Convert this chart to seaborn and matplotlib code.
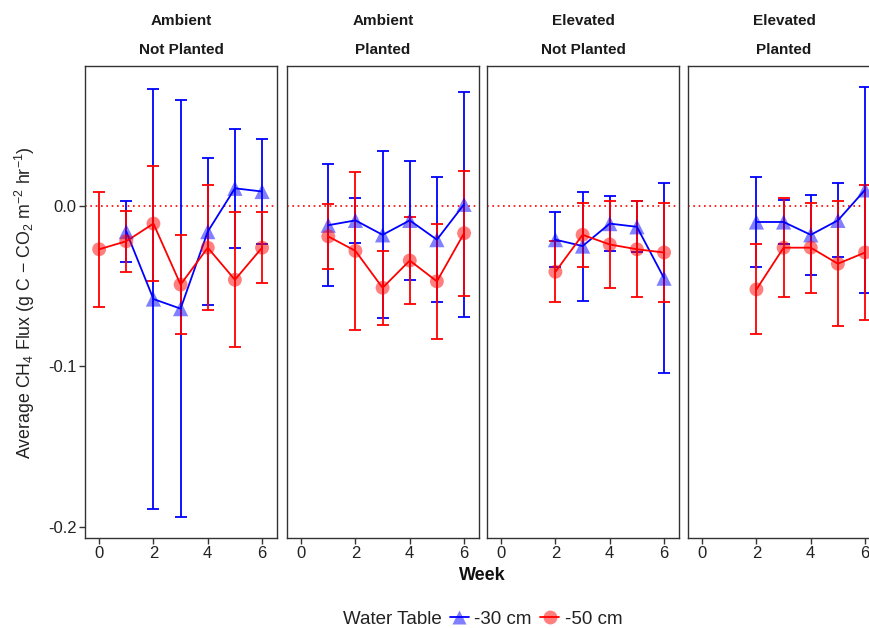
import matplotlib
matplotlib.use("Agg")
import matplotlib.pyplot as plt
from matplotlib.lines import Line2D
from matplotlib.colors import to_rgba
import seaborn as sns
import pandas as pd

# ---- data ----
panels_top = ["Ambient", "Ambient", "Elevated", "Elevated"]
panels_bottom = ["Not Planted", "Planted", "Not Planted", "Planted"]
series_labels = ["-30 cm", "-50 cm"]

p1_weeks_30 = [1, 2, 3, 4, 5, 6]
p1_mean_30 = [-0.016, -0.058, -0.064, -0.016, 0.011, 0.009]
p1_err_30 = [0.019, 0.131, 0.130, 0.046, 0.037, 0.033]
p1_weeks_50 = [0, 1, 2, 3, 4, 5, 6]
p1_mean_50 = [-0.027, -0.022, -0.011, -0.049, -0.026, -0.046, -0.026]
p1_err_50 = [0.036, 0.019, 0.036, 0.031, 0.039, 0.042, 0.022]

p2_weeks_30 = [1, 2, 3, 4, 5, 6]
p2_mean_30 = [-0.012, -0.009, -0.018, -0.009, -0.021, 0.001]
p2_err_30 = [0.038, 0.014, 0.052, 0.037, 0.039, 0.070]
p2_weeks_50 = [1, 2, 3, 4, 5, 6]
p2_mean_50 = [-0.019, -0.028, -0.051, -0.034, -0.047, -0.017]
p2_err_50 = [0.020, 0.049, 0.023, 0.027, 0.036, 0.039]

p3_weeks_30 = [2, 3, 4, 5, 6]
p3_mean_30 = [-0.021, -0.025, -0.011, -0.013, -0.045]
p3_err_30 = [0.017, 0.034, 0.017, 0.016, 0.059]
p3_weeks_50 = [2, 3, 4, 5, 6]
p3_mean_50 = [-0.041, -0.018, -0.024, -0.027, -0.029]
p3_err_50 = [0.019, 0.020, 0.027, 0.030, 0.031]

p4_weeks_30 = [2, 3, 4, 5, 6]
p4_mean_30 = [-0.010, -0.010, -0.018, -0.009, 0.010]
p4_err_30 = [0.028, 0.014, 0.025, 0.023, 0.064]
p4_weeks_50 = [2, 3, 4, 5, 6]
p4_mean_50 = [-0.052, -0.026, -0.026, -0.036, -0.029]
p4_err_50 = [0.028, 0.031, 0.028, 0.039, 0.042]

y_ticks = [0.0, -0.1, -0.2]
y_tick_labels = ["0.0", "-0.1", "-0.2"]
x_ticks = [0, 2, 4, 6]

panel_data = [
    ((p1_weeks_30, p1_mean_30, p1_err_30), (p1_weeks_50, p1_mean_50, p1_err_50)),
    ((p2_weeks_30, p2_mean_30, p2_err_30), (p2_weeks_50, p2_mean_50, p2_err_50)),
    ((p3_weeks_30, p3_mean_30, p3_err_30), (p3_weeks_50, p3_mean_50, p3_err_50)),
    ((p4_weeks_30, p4_mean_30, p4_err_30), (p4_weeks_50, p4_mean_50, p4_err_50)),
]

# ---- style ----
sns.set_theme(style="white")
plt.rcParams["font.family"] = ["Liberation Sans", "DejaVu Sans"]
plt.rcParams["axes.unicode_minus"] = False
plt.rcParams["mathtext.fontset"] = "custom"
plt.rcParams["mathtext.rm"] = "Liberation Sans"
plt.rcParams["mathtext.it"] = "Liberation Sans:italic"

colors = {"-30 cm": "#0000FF", "-50 cm": "#FF0000"}
markers = {"-30 cm": "^", "-50 cm": "o"}
msize = {"-30 cm": 120, "-50 cm": 100}

W, H = 869, 628
fig = plt.figure(figsize=(W / 100, H / 100), dpi=100)

lefts = [85, 287, 487, 688]
pw = 192
top, bottom = 66, 538

for i, (left, (s30, s50)) in enumerate(zip(lefts, panel_data)):
    ax = fig.add_axes([left / W, 1 - bottom / H, pw / W, (bottom - top) / H])
    ax.axhline(0, color="#FF0000", ls=(0, (1, 2.2)), lw=1.2, zorder=1)
    for lab, (wk, mn, er) in zip(series_labels, (s30, s50)):
        df = pd.DataFrame({"week": wk, "flux": mn, "err": er})
        c = colors[lab]
        ax.errorbar(df["week"], df["flux"], yerr=df["err"], fmt="none",
                    ecolor=c, elinewidth=1.3, capsize=4.5, capthick=1.3, zorder=2)
        sns.lineplot(data=df, x="week", y="flux", color=c, lw=1.3, ax=ax,
                     zorder=3, legend=False)
        sns.scatterplot(data=df, x="week", y="flux", color=c, marker=markers[lab],
                        s=msize[lab], alpha=0.5, edgecolor="none", ax=ax,
                        zorder=4, legend=False)
    ax.set_xlim(-0.52, 6.55)
    ax.set_ylim(-0.2069, 0.0872)
    ax.set_xticks(x_ticks)
    ax.set_xticklabels([str(t) for t in x_ticks], fontsize=12, color="#222222")
    ax.set_yticks(y_ticks)
    if i == 0:
        ax.set_yticklabels(y_tick_labels, fontsize=12, color="#222222")
        ax.tick_params(axis="y", left=True, length=4, width=1, color="#333333", pad=2)
    else:
        ax.set_yticklabels([])
        ax.tick_params(axis="y", left=False)
    ax.tick_params(axis="x", bottom=True, length=4, width=1, color="#333333", pad=2)
    ax.set_xlabel("")
    ax.set_ylabel("")
    for sp in ax.spines.values():
        sp.set_color("#333333")
        sp.set_linewidth(1.0)
    ax.text(0.5, 1 + 45 / (bottom - top), panels_top[i], transform=ax.transAxes,
            ha="center", va="center", fontsize=11, fontweight="bold", color="#1a1a1a")
    ax.text(0.5, 1 + 16 / (bottom - top), panels_bottom[i], transform=ax.transAxes,
            ha="center", va="center", fontsize=11, fontweight="bold", color="#1a1a1a")

fig.text(25 / W, 1 - 303 / H,
         r"Average CH$_4$ Flux (g C $-$ CO$_2$ m$^{-2}$ hr$^{-1}$)",
         rotation=90, ha="center", va="center", fontsize=12.8, color="#222222")
fig.text(482 / W, 1 - 576 / H, "Week", ha="center", va="center",
         fontsize=13, fontweight="bold", color="#111111")

fig.text(442 / W, 1 - 619 / H, "Water Table", ha="right", va="center",
         fontsize=13.5, color="#222222")
handles = [
    Line2D([], [], color=colors[l], lw=1.3, marker=markers[l], markersize=10,
           markerfacecolor=to_rgba(colors[l], 0.5), markeredgecolor="none")
    for l in series_labels
]
leg = fig.legend(handles, series_labels, loc="center left",
                 bbox_to_anchor=(450 / W, 1 - 619 / H), ncol=2, frameon=False,
                 fontsize=13.5, handlelength=1.0, handletextpad=0.3,
                 columnspacing=0.45, borderaxespad=0, borderpad=0)
for t in leg.get_texts():
    t.set_color("#222222")

fig.savefig("out.png", dpi=100)
